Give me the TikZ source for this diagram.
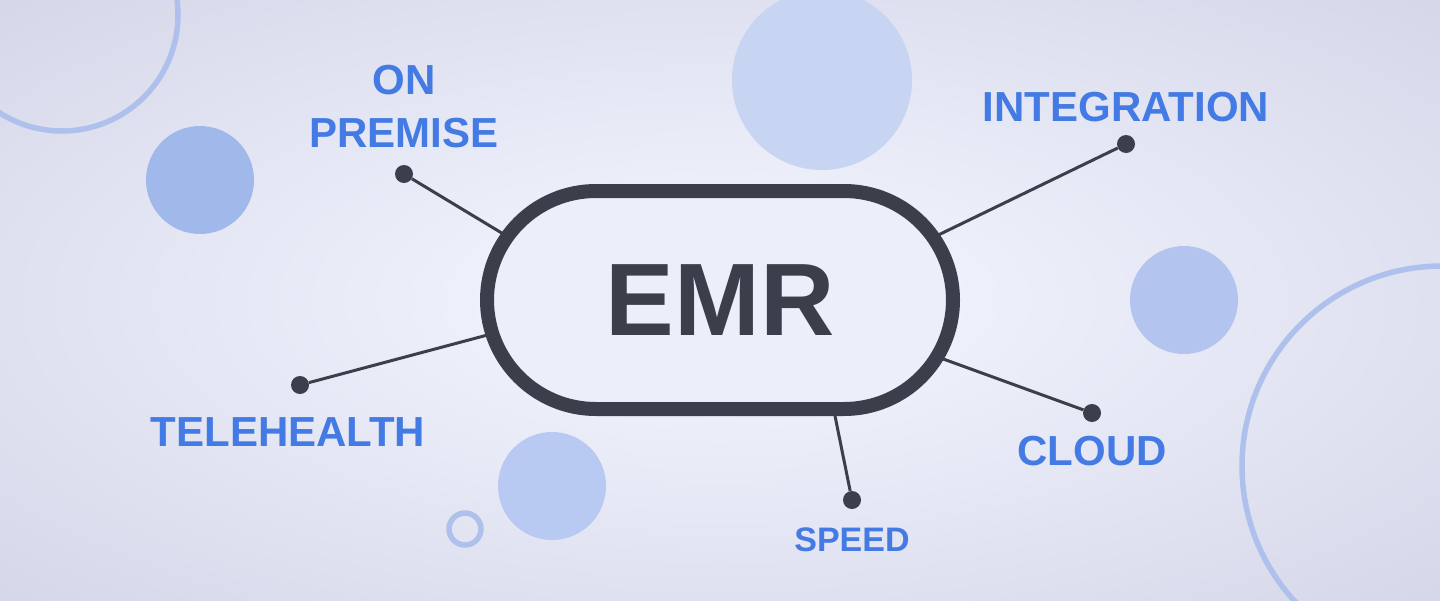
\documentclass[tikz,border=0pt]{standalone}
\usepackage{fontspec}
\setmainfont{Liberation Sans}
\usepackage{xcolor}
\definecolor{Ink}{HTML}{3C3F4B}
\definecolor{LabelBlue}{HTML}{437AE3}
\definecolor{BgLight}{HTML}{EEF0FB}
\definecolor{BgDark}{HTML}{D5D7E9}
\definecolor{PillFill}{HTML}{ECEEFA}
\definecolor{Ring}{HTML}{AEC0EC}
\definecolor{BlobA}{HTML}{A1B8EA}
\definecolor{BlobB}{HTML}{B3C5EF}
\definecolor{BlobC}{HTML}{C7D4F2}
\definecolor{BlobD}{HTML}{B8C9F2}
\usetikzlibrary{positioning}
\pgfdeclareradialshading{bgglow}{\pgfpoint{0bp}{0bp}}{color(0bp)=(BgLight); color(8bp)=(BgLight); color(36bp)=(BgDark); color(50bp)=(BgDark)}

\begin{document}
\begin{tikzpicture}[
  x=1pt, y=-1pt,
  font=\fontsize{42}{53}\selectfont\bfseries,
  pill/.style={draw=Ink, line width=14pt, fill=PillFill, rounded corners=109pt,
               minimum width=466pt, minimum height=218pt, inner sep=0pt},
  hub/.style={circle, fill=Ink, minimum size=18pt, inner sep=0pt},
  topic/.style={text=LabelBlue, inner sep=0pt, outer sep=0pt, align=center},
  spoke/.style={Ink, line width=3pt},
  ring/.style={draw=Ring, line width=5.5pt}
]
  \useasboundingbox (0,0) rectangle (1440,600);
  \clip (0,0) rectangle (1440,600);
  \shade[shading=bgglow] (0,0) rectangle (1440,600);

  \draw[ring] (62,15) circle[radius=116];
  \draw[ring] (1442,466) circle[radius=200];
  \draw[ring] (465,529) circle[radius=16];
  \fill[BlobA] (200,180) circle[radius=54];
  \fill[BlobC] (822,80) circle[radius=90];
  \fill[BlobB] (1184,300) circle[radius=54];
  \fill[BlobD] (552,486) circle[radius=54];

  \node[hub] (hubOn) at (404,174) {};
  \node[hub] (hubInt) at (1126,144) {};
  \node[hub] (hubTele) at (300,385) {};
  \node[hub] (hubCloud) at (1092,413) {};
  \node[hub] (hubSpeed) at (852,500) {};
  \coordinate (endOn) at (510,238);
  \coordinate (endInt) at (930,239);
  \coordinate (endTele) at (495,333);
  \coordinate (endCloud) at (935,356);
  \coordinate (endSpeed) at (833,406);
  \draw[spoke] (hubOn) -- (endOn);
  \draw[spoke] (hubInt) -- (endInt);
  \draw[spoke] (hubTele) -- (endTele);
  \draw[spoke] (hubCloud) -- (endCloud);
  \draw[spoke] (hubSpeed) -- (endSpeed);

  \node[pill, text=Ink, font=\fontsize{103}{103}\selectfont\bfseries] (emr) at (720,300) {EMR};

  \node[topic, above=17pt of hubOn] (onPrem) {ON\\PREMISE};
  \node[topic, above=13pt of hubInt] (integ) {INTEGRATION};
  \node[topic, below=23pt of hubTele, xshift=-12pt] (tele) {TELEHEALTH};
  \node[topic, below=14pt of hubCloud] (cloud) {CLOUD};
  \node[topic, below=19pt of hubSpeed, font=\fontsize{34}{40}\selectfont\bfseries] (speed) {SPEED};
\end{tikzpicture}
\end{document}
